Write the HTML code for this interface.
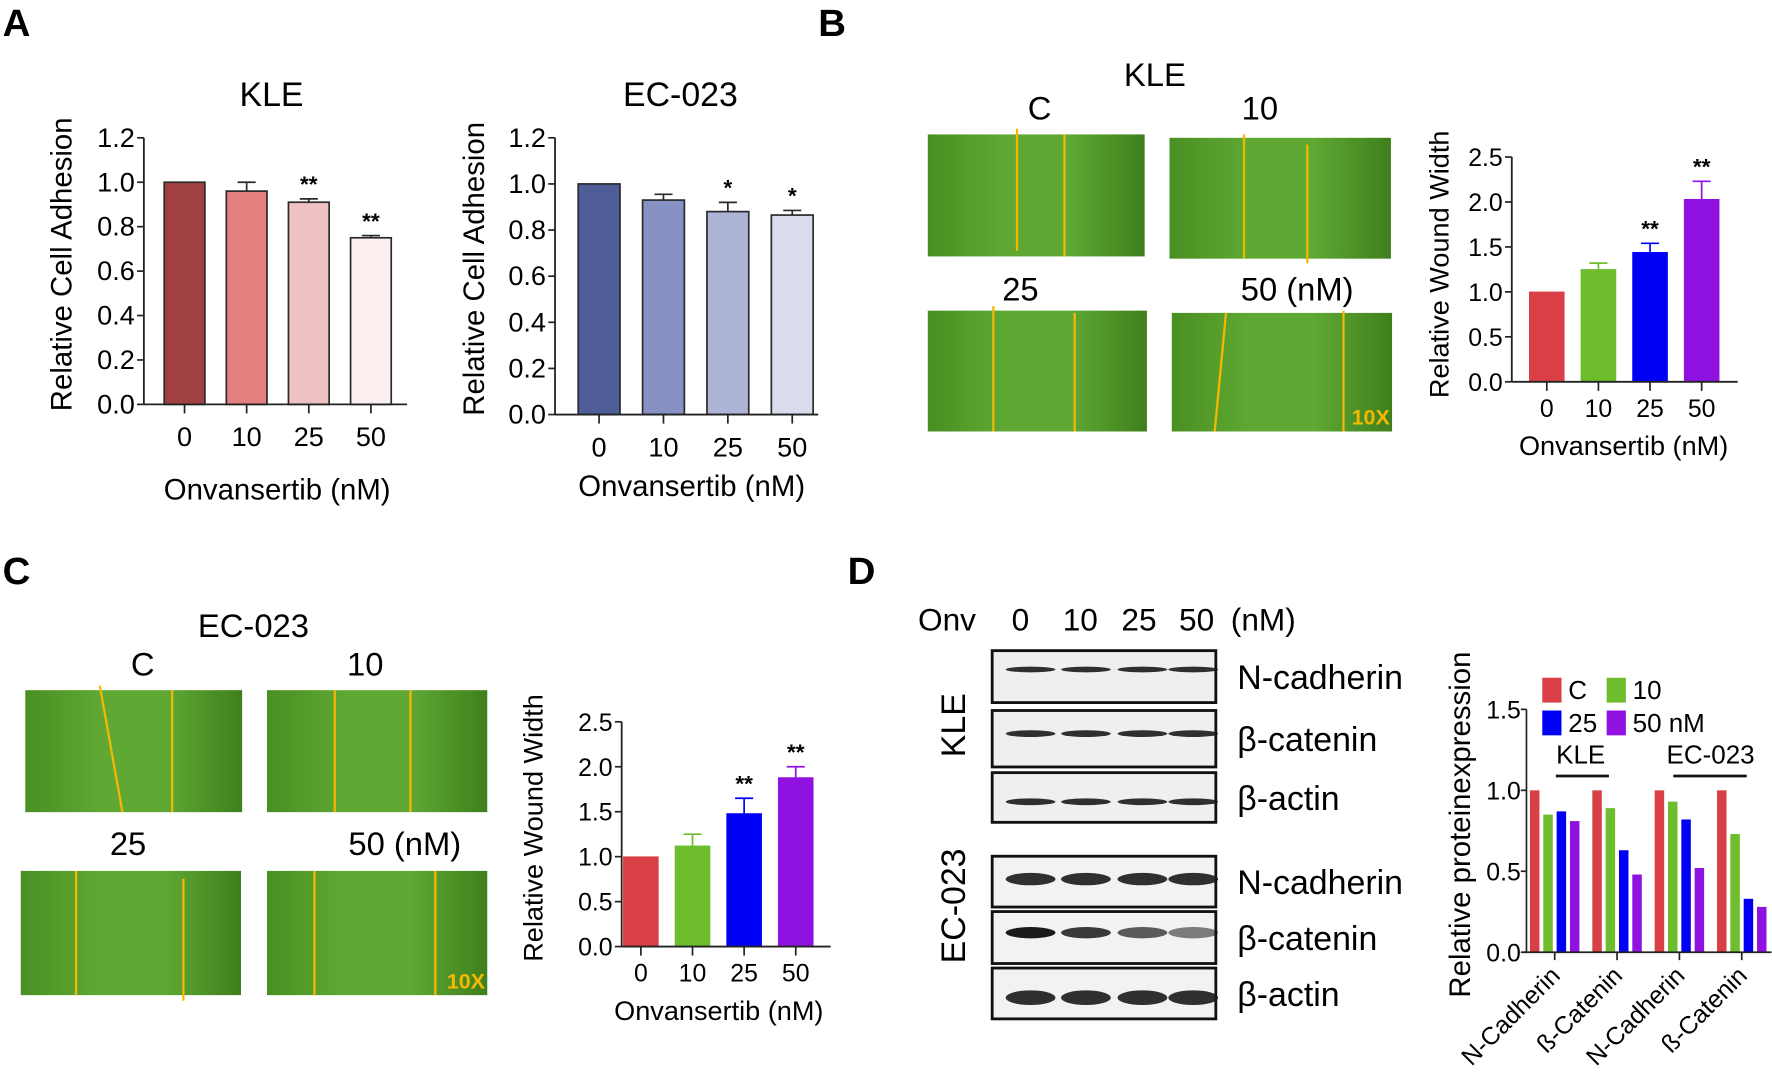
<!DOCTYPE html>
<html><head><meta charset="utf-8">
<style>
html,body{margin:0;padding:0;background:#fff;}
svg{display:block;font-family:"Liberation Sans",sans-serif;}
</style></head>
<body>
<svg id="fig" width="1772" height="1081" viewBox="0 0 1568 957" xmlns="http://www.w3.org/2000/svg">
<defs>
<linearGradient id="micro" x1="0" x2="1" y1="0" y2="0">
<stop offset="0" stop-color="#4a8f22"/><stop offset="0.35" stop-color="#5fa834"/><stop offset="0.65" stop-color="#5fa834"/><stop offset="1" stop-color="#3f7f1c"/>
</linearGradient>
</defs>
<g font-weight="bold" font-size="34">
<text x="2" y="32">A</text>
<text x="724" y="32">B</text>
<text x="2" y="517">C</text>
<text x="750" y="517">D</text>
</g>
<g id="root"></g>
</svg>
<script>
// ---- data ----
const doses = ["0","10","25","50"];
const kleAdh = [1.0, 0.96, 0.91, 0.75];
const kleAdhErr = [0, 0.04, 0.015, 0.01];
const kleAdhSig = ["", "", "**", "**"];
const ecAdh = [1.0, 0.93, 0.88, 0.865];
const ecAdhErr = [0, 0.025, 0.04, 0.02];
const ecAdhSig = ["", "", "*", "*"];
const adhTicks = [0, 0.2, 0.4, 0.6, 0.8, 1.0, 1.2];
const kleWound = [1.0, 1.25, 1.44, 2.03];
const kleWoundErr = [0, 0.07, 0.1, 0.2];
const kleWoundSig = ["", "", "**", "**"];
const ecWound = [1.0, 1.12, 1.48, 1.88];
const ecWoundErr = [0, 0.13, 0.17, 0.12];
const ecWoundSig = ["", "", "**", "**"];
const woundTicks = [0, 0.5, 1.0, 1.5, 2.0, 2.5];
const protCats = ["N-Cadherin", "ß-Catenin", "N-Cadherin", "ß-Catenin"];
const protC = [1.0, 1.0, 1.0, 1.0];
const prot10 = [0.85, 0.89, 0.93, 0.73];
const prot25 = [0.87, 0.63, 0.82, 0.33];
const prot50 = [0.81, 0.48, 0.52, 0.28];
const protTicks = [0, 0.5, 1.0, 1.5];

const NS = "http://www.w3.org/2000/svg";
const root = document.getElementById('root');
function mk(tag, attrs, parent, text){
  const e = document.createElementNS(NS, tag);
  for (const k in attrs) e.setAttribute(k, attrs[k]);
  if (text !== undefined) e.textContent = text;
  (parent || root).appendChild(e);
  return e;
}
function txt(x,y,s,size,anchor,parent,extra){
  const a = {x:x,y:y,'font-size':size,'text-anchor':anchor||'middle'};
  if (extra) for (const k in extra) a[k]=extra[k];
  return mk('text',a,parent,s);
}

function barChart(o){
  const g = mk('g',{});
  
  
  const ymax = o.ticks[o.ticks.length-1];
  const Y = v => o.y0 - (v/ymax)*(o.y0-o.y1);
  const X = i => o.x0 + o.first + i*o.step;
  o.values.forEach((v,i)=>{
    const b = mk('rect',{x:X(i)-o.bw/2,y:Y(v),width:o.bw,height:o.y0-Y(v),fill:o.colors[i],stroke:o.stroke||o.colors[i],'stroke-width':o.stroke?1.5:0.5},g);
    
    
    const e = o.errs[i];
    if (e>0){
      const ec = o.stroke||o.colors[i];
      mk('line',{x1:X(i),x2:X(i),y1:Y(v),y2:Y(v+e),stroke:ec,'stroke-width':1.5},g);
      mk('line',{x1:X(i)-8,x2:X(i)+8,y1:Y(v+e),y2:Y(v+e),stroke:ec,'stroke-width':1.5},g);
    }
    if (o.sig[i]){
      txt(X(i), Y(v+e)-6, o.sig[i], 20, 'middle', g, {'font-weight':'bold'});
    }
  });
  mk('line',{x1:o.x0,x2:o.x0,y1:o.y1,y2:o.y0,stroke:'#222','stroke-width':1.6},g);
  mk('line',{x1:o.x0,x2:o.xEnd,y1:o.y0,y2:o.y0,stroke:'#222','stroke-width':1.6},g);
  o.ticks.forEach(t=>{
    mk('line',{x1:o.x0-6,x2:o.x0,y1:Y(t),y2:Y(t),stroke:'#222','stroke-width':1.5},g);
    const l = txt(o.x0-8, Y(t)+8, t.toFixed(1), o.fs, 'end', g);
    
    
  });
  doses.forEach((d,i)=>{
    mk('line',{x1:X(i),x2:X(i),y1:o.y0,y2:o.y0+8,stroke:'#222','stroke-width':1.5},g);
    const l = txt(X(i), o.y0+o.xlOff, d, o.fs, 'middle', g);
    
    
  });
  const yt = txt(0,0,o.ytitle,o.tfs,'middle',g,{transform:`translate(${o.ytX},${o.ytY}) rotate(-90)`});
  
  
  const xt = txt(o.xtX,o.xtY,'Onvansertib (nM)',o.tfs,'middle',g);
  
  
  if (o.title){
    const t = txt(o.titleX,o.titleY,o.title,30,'middle',g);
    
    
  }
}

// Panel A
barChart({name:'kle-adhesion-chart',values:kleAdh,errs:kleAdhErr,sig:kleAdhSig,ticks:adhTicks,x0:127,xEnd:360,y0:358,y1:122,first:36,step:55,bw:36,
  colors:['#a04042','#e37f7f','#f0c1c2','#fbefef'],stroke:'#2a2a2a',fs:24,tfs:26,xlOff:37,ytitle:'Relative Cell Adhesion',ytX:63,ytY:234,xtX:245,xtY:442,title:'KLE',titleX:240,titleY:94});
barChart({name:'ec023-adhesion-chart',values:ecAdh,errs:ecAdhErr,sig:ecAdhSig,ticks:adhTicks,x0:491,xEnd:724,y0:367,y1:122,first:39,step:57,bw:37,
  colors:['#4f5e98','#8791c3','#aeb4d6','#d8dcec'],stroke:'#2a2a2a',fs:24,tfs:26,xlOff:37,ytitle:'Relative Cell Adhesion',ytX:428,ytY:238,xtX:612,xtY:439,title:'EC-023',titleX:602,titleY:94});

const woundColors = ['#d94046','#6dbd2d','#0000f5','#9012e0'];
barChart({name:'kle-wound-chart',values:kleWound,errs:kleWoundErr,sig:kleWoundSig,ticks:woundTicks,x0:1338,xEnd:1538,y0:338,y1:139,first:31,step:45.7,bw:31,
  colors:woundColors,fs:22,tfs:24,xlOff:31,ytitle:'Relative Wound Width',ytX:1282,ytY:234,xtX:1437,xtY:403});
barChart({name:'ec023-wound-chart',values:ecWound,errs:ecWoundErr,sig:ecWoundSig,ticks:woundTicks,x0:550,xEnd:735,y0:838,y1:639,first:17,step:45.7,bw:31,
  colors:woundColors,fs:22,tfs:24,xlOff:31,ytitle:'Relative Wound Width',ytX:480,ytY:733,xtX:636,xtY:903});

function micro(name,x,y,w,h,lines,tenx){
  const g = mk('g',{});
  
  
  mk('rect',{x:x,y:y,width:w,height:h,fill:'url(#micro)'},g);
  lines.forEach(l=>mk('line',{x1:l[0],y1:l[1],x2:l[2],y2:l[3],stroke:'#f5b800','stroke-width':2},g));
  if (tenx) txt(x+w-2,y+h-6,'10X',19,'end',g,{fill:'#f5b800','font-weight':'bold'});
}
txt(1022,76,'KLE',29,'middle',null,{});
txt(920,106,'C',29); txt(1115,106,'10',29); txt(903,266,'25',29); txt(1148,266,'50 (nM)',29);
micro('kle-micro-c',821,119,192,108,[[900,114,900,222],[942,119,942,227]]);
micro('kle-micro-10',1035,122,196,107,[[1101,119,1101,229],[1157,128,1157,233]]);
micro('kle-micro-25',821,275,194,107,[[879,271,879,382],[951,277,951,382]]);
micro('kle-micro-50',1037,277,195,105,[[1085,277,1075,382],[1189,275,1189,382]],true);
txt(224,564,'EC-023',29,'middle',null,{});
txt(126,598,'C',29); txt(323,598,'10',29); txt(113,757,'25',29); txt(358,757,'50 (nM)',29);
micro('ec-micro-c',22,611,192,108,[[88,607,108,719],[152,611,152,719]]);
micro('ec-micro-10',236,611,195,108,[[296,611,296,719],[363,611,363,719]]);
micro('ec-micro-25',18,771,195,110,[[67,771,67,881],[162,778,162,886]]);
micro('ec-micro-50',236,771,195,110,[[278,771,278,881],[385,771,385,881]],true);

// Panel D blots
txt(838,558,'Onv',28);
[['0',903],['10',956],['25',1008],['50',1059],['(nM)',1118]].forEach(a=>txt(a[1],558,a[0],28));
const blots = [[576,46,'N-cadherin',1,'light'],[629,50,'β-catenin',1,'mid'],[684,44,'β-actin',1,'strong'],
               [758,45,'N-cadherin',0,'heavy'],[807,46,'β-catenin',0,'heavy2'],[857,45,'β-actin',0,'heavy3']];
const laneX = [912,961,1011,1056];
blots.forEach((b,bi)=>{
  const g = mk('g',{});
  
  
  mk('rect',{x:878,y:b[0],width:198,height:b[1],fill:b[3]?'#efefef':'#f2f2f2',stroke:'#111','stroke-width':2.5},g);
  const cy = b[0]+b[1]*0.45;
  const th = {light:3,mid:4,strong:6,heavy:9,heavy2:8,heavy3:11}[b[4]];
  const dy = {light:-4,mid:-2,strong:6,heavy:0,heavy2:-2,heavy3:6}[b[4]];
  laneX.forEach((lx,i)=>{
    mk('ellipse',{cx:lx,cy:cy+dy,rx:22,ry:th/2+(b[4]==='strong'?0:1),fill:'#1a1a1a',opacity:(b[4]==='heavy2'?1-i*0.15:0.9)},g);
  });
  txt(1095,b[0]+b[1]/2+11,b[2],30,'start',g);
});
txt(0,0,'KLE',30,'middle',null,{transform:'translate(854,642) rotate(-90)',});
txt(0,0,'EC-023',30,'middle',null,{transform:'translate(854,802) rotate(-90)',});

// Panel D chart
(function(){
  const g = mk('g',{});
  
  
  const x0=1351, y0=843, y1=628, ymax=1.5;
  const Y = v => y0-(v/ymax)*(y0-y1);
  const grpX = i => 1376 + i*55.2;
  const series = [protC,prot10,prot25,prot50];
  const cols = woundColors;
  series.forEach((s,si)=>s.forEach((v,ci)=>{
    const cx = grpX(ci) + (si-1.5)*11.8;
    const r = mk('rect',{x:cx-4.2,y:Y(v),width:8.4,height:y0-Y(v),fill:cols[si]},g);
    
    
  }));
  mk('line',{x1:x0,x2:x0,y1:y1,y2:y0,stroke:'#222','stroke-width':1.5},g);
  mk('line',{x1:x0-3,x2:1568,y1:y0,y2:y0,stroke:'#222','stroke-width':1.5},g);
  protTicks.forEach(t=>{
    mk('line',{x1:x0-5,x2:x0,y1:Y(t),y2:Y(t),stroke:'#222','stroke-width':1.5},g);
    txt(x0-5,Y(t)+8,t.toFixed(1),22,'end',g);
  });
  protCats.forEach((c,i)=>{
    mk('line',{x1:grpX(i),x2:grpX(i),y1:y0,y2:y0+7,stroke:'#222','stroke-width':1.5},g);
    const l = txt(0,0,c,22,'end',g,{transform:`translate(${grpX(i)+6},${y0+22}) rotate(-45)`});
    
    
  });
  txt(0,0,'Relative proteinexpression',26,'middle',g,{transform:'translate(1301,730) rotate(-90)'});
  const leg = [['C',1365,602],['10',1422,602],['25',1365,631],['50 nM',1422,631]];
  leg.forEach((l,i)=>{
    const lg = mk('g',{},g);
    
    
    mk('rect',{x:l[1],y:l[2]-2,width:17,height:22,fill:cols[i]},lg);
    txt(l[1]+23,l[2]+17,l[0],23,'start',lg);
  });
  txt(1399,676,'KLE',23,'middle',g);
  txt(1514,676,'EC-023',23,'middle',g);
  mk('line',{x1:1377,x2:1424,y1:687,y2:687,stroke:'#111','stroke-width':2.5},g);
  mk('line',{x1:1481,x2:1546,y1:687,y2:687,stroke:'#111','stroke-width':2.5},g);
})();
</script>
</body></html>
